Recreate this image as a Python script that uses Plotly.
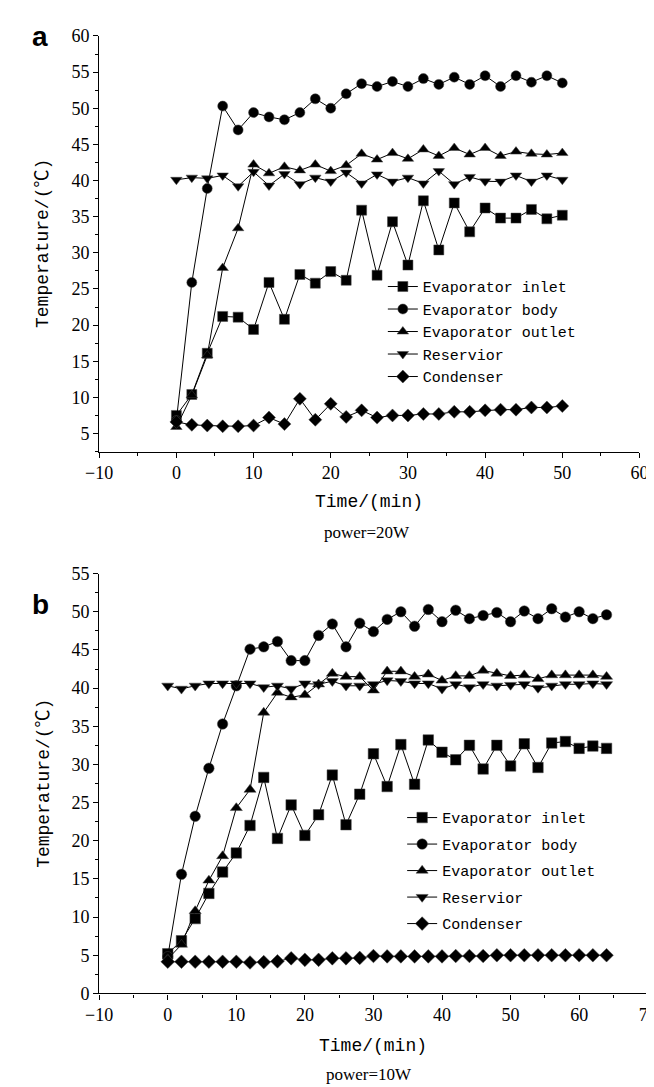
import plotly.graph_objects as go

W, H = 654, 1087

# ---------------- data: power = 20 W ----------------
time_20 = [0, 2, 4, 6, 8, 10, 12, 14, 16, 18, 20, 22, 24, 26, 28, 30, 32, 34, 36, 38, 40, 42, 44, 46, 48, 50]
inlet_20 = [7.5, 10.4, 16.1, 21.2, 21.1, 19.4, 25.9, 20.8, 27.0, 25.8, 27.4, 26.2, 35.9, 26.9, 34.3, 28.3,
            37.2, 30.4, 36.9, 32.9, 36.2, 34.8, 34.8, 36.0, 34.7, 35.2]
body_20 = [6.8, 25.9, 38.9, 50.3, 47.0, 49.4, 48.8, 48.4, 49.4, 51.3, 50.0, 52.0, 53.4, 53.0, 53.7, 53.0,
           54.1, 53.3, 54.3, 53.3, 54.5, 53.0, 54.5, 53.6, 54.5, 53.5]
outlet_20 = [5.9, 10.3, 15.8, 27.9, 33.4, 42.2, 41.0, 41.9, 41.4, 42.2, 41.3, 42.1, 43.7, 42.9, 43.8, 43.0,
             44.3, 43.4, 44.5, 43.6, 44.5, 43.4, 44.0, 43.7, 43.6, 43.8]
reservoir_20 = [40.1, 40.4, 40.3, 40.7, 39.2, 41.2, 39.3, 40.9, 39.5, 40.4, 39.85, 41.1, 39.6, 40.85, 39.85, 40.4,
                39.6, 41.3, 39.5, 40.5, 39.9, 39.85, 40.7, 39.85, 40.7, 40.1]
condenser_20 = [6.6, 6.2, 6.1, 6.0, 6.0, 6.1, 7.2, 6.3, 9.8, 6.9, 9.1, 7.3, 8.2, 7.2, 7.5, 7.5,
                7.7, 7.7, 8.0, 8.0, 8.2, 8.3, 8.3, 8.6, 8.6, 8.8]

# ---------------- data: power = 10 W ----------------
time_10 = [0, 2, 4, 6, 8, 10, 12, 14, 16, 18, 20, 22, 24, 26, 28, 30, 32, 34, 36, 38, 40, 42, 44, 46, 48, 50,
           52, 54, 56, 58, 60, 62, 64]
inlet_10 = [5.2, 6.9, 9.8, 13.1, 15.9, 18.4, 22.0, 28.3, 20.3, 24.7, 20.7, 23.4, 28.6, 22.1, 26.1, 31.4,
            27.1, 32.6, 27.4, 33.2, 31.6, 30.6, 32.5, 29.4, 32.5, 29.8, 32.7, 29.6, 32.8, 33.0, 32.1, 32.4, 32.1]
body_10 = [4.8, 15.6, 23.2, 29.5, 35.3, 40.3, 45.1, 45.4, 46.1, 43.6, 43.6, 46.9, 48.4, 45.4, 48.5, 47.4,
           49.0, 50.0, 48.1, 50.3, 48.7, 50.2, 49.1, 49.5, 49.9, 48.7, 50.1, 49.1, 50.4, 49.3, 50.0, 49.1, 49.6]
outlet_10 = [4.5, 6.4, 10.8, 14.8, 18.0, 24.3, 26.7, 36.8, 39.4, 38.8, 39.1, 40.5, 41.9, 41.5, 41.5, 39.7,
             42.2, 42.2, 41.5, 41.8, 41.0, 41.6, 41.6, 42.3, 41.9, 41.6, 41.7, 41.2, 41.7, 41.7, 41.7, 41.7, 41.5]
reservoir_10 = [40.3, 39.9, 40.3, 40.6, 40.6, 40.6, 40.6, 40.1, 40.3, 39.9, 40.6, 40.5, 40.9, 40.3, 40.3, 40.5,
                41.0, 40.9, 40.6, 40.6, 39.9, 40.5, 40.1, 40.5, 40.3, 40.4, 40.5, 40.0, 40.3, 40.5, 40.5, 40.6, 40.5]
condenser_10 = [4.15, 4.15, 4.15, 4.15, 4.15, 4.15, 4.05, 4.1, 4.2, 4.6, 4.4, 4.4, 4.6, 4.6, 4.65, 4.9,
                4.85, 4.85, 4.85, 4.85, 4.85, 4.9, 4.9, 4.9, 5.0, 5.0, 5.0, 5.0, 5.0, 5.0, 5.0, 5.0, 5.0]

series_names = ["Evaporator inlet", "Evaporator body", "Evaporator outlet", "Reservior", "Condenser"]
symbols = ["square", "circle", "triangle-up", "triangle-down", "diamond"]
x_ticks_20 = [-10, 0, 10, 20, 30, 40, 50, 60]
x_ticks_10 = [-10, 0, 10, 20, 30, 40, 50, 60, 70]

MONO = "Liberation Mono, Noto Sans CJK SC, monospace"
SERIF = "Liberation Serif, serif"

fig = go.Figure()

def add_panel(t, ys, xa, ya, legend, msize, tag):
    for i, (name, y, sym) in enumerate(zip(series_names, ys, symbols)):
        fig.add_trace(go.Scatter(
            x=t, y=y, name=name, mode="lines+markers",
            xaxis=xa, yaxis=ya, legend=legend, legendgroup=f"{tag}{i}",
            line=dict(color="black", width=1),
            marker=dict(symbol=sym, size=msize, color="black",
                        line=dict(color="#444", width=0.5)),
        ))

add_panel(time_20, [inlet_20, body_20, outlet_20, reservoir_20, condenser_20], "x", "y", "legend", 10, "a")
add_panel(time_10, [inlet_10, body_10, outlet_10, reservoir_10, condenser_10], "x2", "y2", "legend2", 10.5, "b")

def py(p):
    return 1 - p / H

def px(p):
    return p / W

axis_common = dict(
    showline=True, linecolor="black", linewidth=1.3, mirror=False,
    ticks="outside", ticklen=5, tickwidth=1.2, tickcolor="black",
    showgrid=False, zeroline=False,
    tickfont=dict(family=SERIF, size=18, color="black"),
)

fig.update_layout(
    width=W, height=H,
    margin=dict(l=0, r=0, t=0, b=0),
    paper_bgcolor="white", plot_bgcolor="white",
    xaxis=dict(domain=[px(80), px(640)], range=[-10, 60], tickvals=x_ticks_20,
               anchor="y",
               minor=dict(ticks="outside", ticklen=3, tickcolor="black", dtick=5, tick0=-5),
               **axis_common),
    yaxis=dict(domain=[py(441.7), py(18.3)], range=[2.5, 60], dtick=5, tick0=0,
               anchor="x",
               minor=dict(ticks="outside", ticklen=3, tickcolor="black", dtick=2.5, tick0=0),
               **axis_common),
    xaxis2=dict(domain=[px(80), px(648.5)], range=[-10, 70], tickvals=x_ticks_10,
                anchor="y2",
                minor=dict(ticks="outside", ticklen=3, tickcolor="black", dtick=5, tick0=-5),
                **axis_common),
    yaxis2=dict(domain=[py(993.7), py(566)], range=[0, 55], dtick=5, tick0=0,
                anchor="x2",
                minor=dict(ticks="outside", ticklen=3, tickcolor="black", dtick=2.5, tick0=0),
                **axis_common),
    legend=dict(x=px(374), y=py(257), xanchor="left", yanchor="top",
                bgcolor="rgba(0,0,0,0)", font=dict(family=MONO, size=15, color="black"),
                tracegroupgap=0, itemclick=False),
    legend2=dict(x=px(394), y=py(798), xanchor="left", yanchor="top",
                 bgcolor="rgba(0,0,0,0)", font=dict(family=MONO, size=15, color="black"),
                 tracegroupgap=4, itemclick=False),
    showlegend=True,
)

annots = [
    dict(text="<b>a</b>", x=px(19), y=py(19), font=dict(family="Liberation Sans, Arial", size=28)),
    dict(text="<b>b</b>", x=px(19), y=py(598), font=dict(family="Liberation Sans, Arial", size=28)),
    dict(text="Temperature/(℃)", x=px(22), y=py(230), textangle=-90, font=dict(family=MONO, size=18)),
    dict(text="Temperature/(℃)", x=px(22), y=py(780), textangle=-90, font=dict(family=MONO, size=18)),
    dict(text="Time/(min)", x=px(360), y=py(493), font=dict(family=MONO, size=18)),
    dict(text="Time/(min)", x=px(364), y=py(1047), font=dict(family=MONO, size=18)),
    dict(text="power=20W", x=px(358), y=py(524), font=dict(family=SERIF, size=17)),
    dict(text="power=10W", x=px(360), y=py(1076), font=dict(family=SERIF, size=17)),
]
for a in annots:
    a["font"]["color"] = "black"
    fig.add_annotation(xref="paper", yref="paper", showarrow=False,
                       xanchor="center", yanchor="middle", **a)

fig.write_html("out.html")
